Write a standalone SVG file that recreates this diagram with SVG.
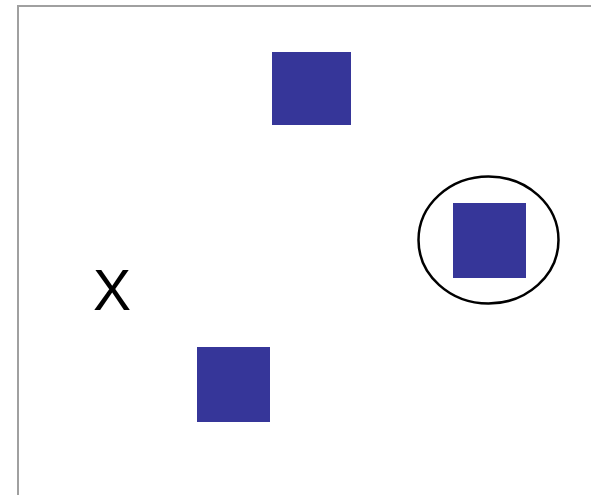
<svg xmlns="http://www.w3.org/2000/svg" width="591" height="495" viewBox="0 0 591 495">
<style>
.sq{fill:#363699}
.frame{fill:none;stroke:#a0a0a0;stroke-width:2}
</style>
<rect x="0" y="0" width="591" height="495" fill="#ffffff"/>
<rect class="frame" x="18" y="6" width="600" height="520"/>
<g id="node-top"><rect class="sq" x="272" y="52" width="79" height="73"/></g>
<g id="node-right"><ellipse cx="488.5" cy="240" rx="70" ry="63.5" fill="none" stroke="#000" stroke-width="2.5"/><rect class="sq" x="453" y="203" width="73" height="75"/></g>
<g id="node-bottom"><rect class="sq" x="197" y="347" width="73" height="75"/></g>
<g id="label-x"><text x="93" y="309.5" font-family="Liberation Sans, Arial, sans-serif" font-size="57" fill="#000">X</text></g>
<g id="connectors"></g>
</svg>
